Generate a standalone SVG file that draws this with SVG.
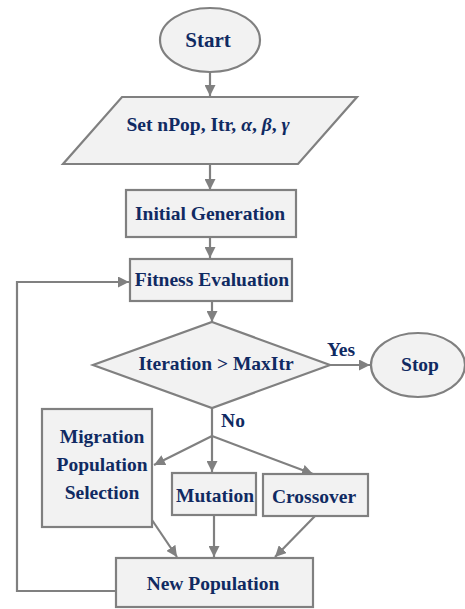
<svg xmlns="http://www.w3.org/2000/svg" width="465" height="609" viewBox="0 0 465 609">
<defs>
<style>
.s{fill:#f2f2f2;stroke:#808080;stroke-width:2.2}
.t{font-family:"Liberation Serif","Times New Roman",serif;font-weight:bold;font-size:19.5px;fill:#102a62;text-anchor:middle}
.c{fill:none;stroke:#808080;stroke-width:2.2}
</style>
<marker id="ah" viewBox="0 0 10 10" refX="10" refY="5" markerWidth="5" markerHeight="5" markerUnits="strokeWidth" orient="auto">
<path d="M0,0 L10,5 L0,10 z" fill="#808080"/>
</marker>
</defs>
<rect width="465" height="609" fill="#ffffff"/>
<g id="connectors">
<line class="c" x1="210" y1="72" x2="210" y2="96" marker-end="url(#ah)"/>
<line class="c" x1="210" y1="164" x2="210" y2="190" marker-end="url(#ah)"/>
<line class="c" x1="210" y1="237" x2="210" y2="258" marker-end="url(#ah)"/>
<line class="c" x1="212" y1="301" x2="212" y2="322" marker-end="url(#ah)"/>
<line class="c" x1="330" y1="365" x2="370" y2="365" marker-end="url(#ah)"/>
<polyline class="c" points="212,408 212,436"/>
<line class="c" x1="212" y1="436" x2="154" y2="465" marker-end="url(#ah)"/>
<line class="c" x1="212" y1="436" x2="212" y2="472" marker-end="url(#ah)"/>
<line class="c" x1="212" y1="436" x2="313" y2="474" marker-end="url(#ah)"/>
<line class="c" x1="152" y1="520" x2="177" y2="557" marker-end="url(#ah)"/>
<line class="c" x1="214" y1="515" x2="214" y2="557" marker-end="url(#ah)"/>
<line class="c" x1="315" y1="516" x2="275" y2="557" marker-end="url(#ah)"/>
<polyline class="c" points="116,591 17,591 17,282 129,282" marker-end="url(#ah)"/>
<text class="t" x="341" y="356">Yes</text>
<text class="t" x="233" y="427">No</text>
</g>
<g id="start">
<ellipse class="s" cx="210" cy="40" rx="50" ry="32"/>
<text class="t" x="208" y="47" style="font-size:21px">Start</text>
</g>
<g id="set">
<polygon class="s" points="122,97 357,97 298,164 63,164"/>
<text class="t" x="208" y="131">Set nPop, Itr, <tspan font-style="italic">α</tspan>, <tspan font-style="italic">β</tspan>, <tspan font-style="italic">γ</tspan></text>
</g>
<g id="init">
<rect class="s" x="126" y="190" width="170" height="47"/>
<text class="t" x="210" y="220">Initial Generation</text>
</g>
<g id="fitness">
<rect class="s" x="130" y="259" width="162" height="42"/>
<text class="t" x="212" y="286">Fitness Evaluation</text>
</g>
<g id="cond">
<polygon class="s" points="212,322 330,365 212,408 93,365"/>
<text class="t" x="216" y="370">Iteration &gt; MaxItr</text>
</g>
<g id="stop">
<ellipse class="s" cx="418" cy="365" rx="47" ry="32"/>
<text class="t" x="420" y="371">Stop</text>
</g>
<g id="migration">
<rect class="s" x="42" y="409" width="110" height="118"/>
<text class="t" x="102" y="443">Migration</text>
<text class="t" x="102" y="471">Population</text>
<text class="t" x="102" y="499">Selection</text>
</g>
<g id="mutation">
<rect class="s" x="172" y="473" width="84" height="42"/>
<text class="t" x="215" y="502">Mutation</text>
</g>
<g id="crossover">
<rect class="s" x="263" y="474" width="105" height="42"/>
<text class="t" x="314" y="503">Crossover</text>
</g>
<g id="newpop">
<rect class="s" x="116" y="558" width="197" height="49"/>
<text class="t" x="213" y="590">New Population</text>
</g>
</svg>
